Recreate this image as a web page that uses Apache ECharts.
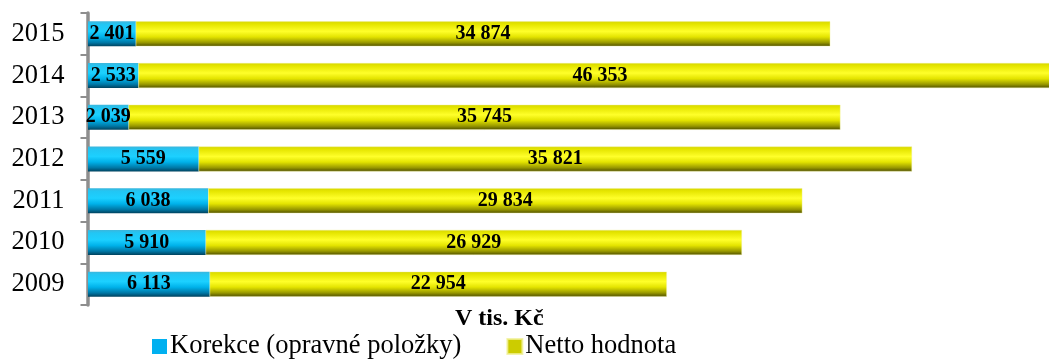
<!DOCTYPE html>
<html>
<head>
<meta charset="utf-8">
<script src="https://cdn.jsdelivr.net/npm/echarts@6/dist/echarts.min.js"></script>
<style>
  html, body { margin: 0; padding: 0; background: #fff; }
  #chart { width: 1049px; height: 361px; }
</style>
</head>
<body>
<div id="chart"></div>
<script>
// Years, bottom to top
const years = ['2009', '2010', '2011', '2012', '2013', '2014', '2015'];
// Korekce (opravné položky), tis. Kč
const korekce = [6113, 5910, 6038, 5559, 2039, 2533, 2401];
// Netto hodnota, tis. Kč
const netto = [22954, 26929, 29834, 35821, 35745, 46353, 34874];

const seriesNames = ['Korekce (opravné položky)', 'Netto hodnota'];
const axisTitle = 'V tis. Kč';

const serif = "'Liberation Serif', 'Times New Roman', 'DejaVu Serif', serif";

function fmt(v) {
  return String(v).replace(/\B(?=(\d{3})+(?!\d))/g, ' ');
}

function vGrad(stops) {
  return new echarts.graphic.LinearGradient(0, 0, 0, 1,
    stops.map(s => ({ offset: s[0], color: s[1] })));
}

const blueFill = vGrad([
  [0, '#3cb6dc'], [0.12, '#22c6f4'], [0.4, '#1cd0ff'],
  [0.62, '#00b2ea'], [0.85, '#0078a6'], [1, '#00425e']
]);
const yellowFill = vGrad([
  [0, '#d6d600'], [0.12, '#e6e600'], [0.4, '#ffff2a'],
  [0.62, '#e4e400'], [0.85, '#989800'], [1, '#4e4e00']
]);

const labelStyle = {
  show: true,
  position: 'inside',
  color: '#000',
  fontFamily: serif,
  fontWeight: 'bold',
  fontSize: 20,
  formatter: p => fmt(p.value)
};

const chart = echarts.init(document.getElementById('chart'), null, { renderer: 'canvas' });

chart.setOption({
  animation: false,
  backgroundColor: '#fff',
  title: {
    text: axisTitle,
    left: 455,
    top: 307,
    padding: 0,
    textStyle: { fontFamily: serif, fontWeight: 'bold', fontSize: 24, color: '#000' }
  },
  legend: {
    left: 152,
    top: 333,
    padding: 0,
    itemWidth: 15,
    itemHeight: 15,
    itemGap: 45,
    icon: 'rect',
    textStyle: { fontFamily: serif, fontSize: 26.5, color: '#000', padding: [0, 0, 0, -2] },
    data: [
      { name: seriesNames[0], itemStyle: { color: '#00b0f0' } },
      { name: seriesNames[1], itemStyle: { color: '#cccc00' } }
    ]
  },
  grid: { left: 88, top: 13, right: 0, height: 292 },
  xAxis: {
    type: 'value',
    min: 0,
    max: 48260,
    show: false
  },
  yAxis: {
    type: 'category',
    data: years,
    offset: 2.5,
    axisLine: { show: true, lineStyle: { color: '#8e8e8e', width: 3.5 } },
    axisTick: { show: true, length: 7.5, lineStyle: { color: '#8e8e8e', width: 2 } },
    axisLabel: { fontFamily: serif, fontSize: 26.5, color: '#000', margin: 21 }
  },
  series: [
    {
      name: seriesNames[0],
      type: 'bar',
      stack: 'total',
      barWidth: '60%',
      clip: false,
      data: korekce,
      itemStyle: { color: blueFill },
      label: labelStyle
    },
    {
      name: seriesNames[1],
      type: 'bar',
      stack: 'total',
      barWidth: '60%',
      clip: false,
      data: netto,
      itemStyle: { color: yellowFill, borderColor: 'rgba(240,240,150,0.8)', borderWidth: 0.5 },
      label: labelStyle
    }
  ]
});
</script>
</body>
</html>
